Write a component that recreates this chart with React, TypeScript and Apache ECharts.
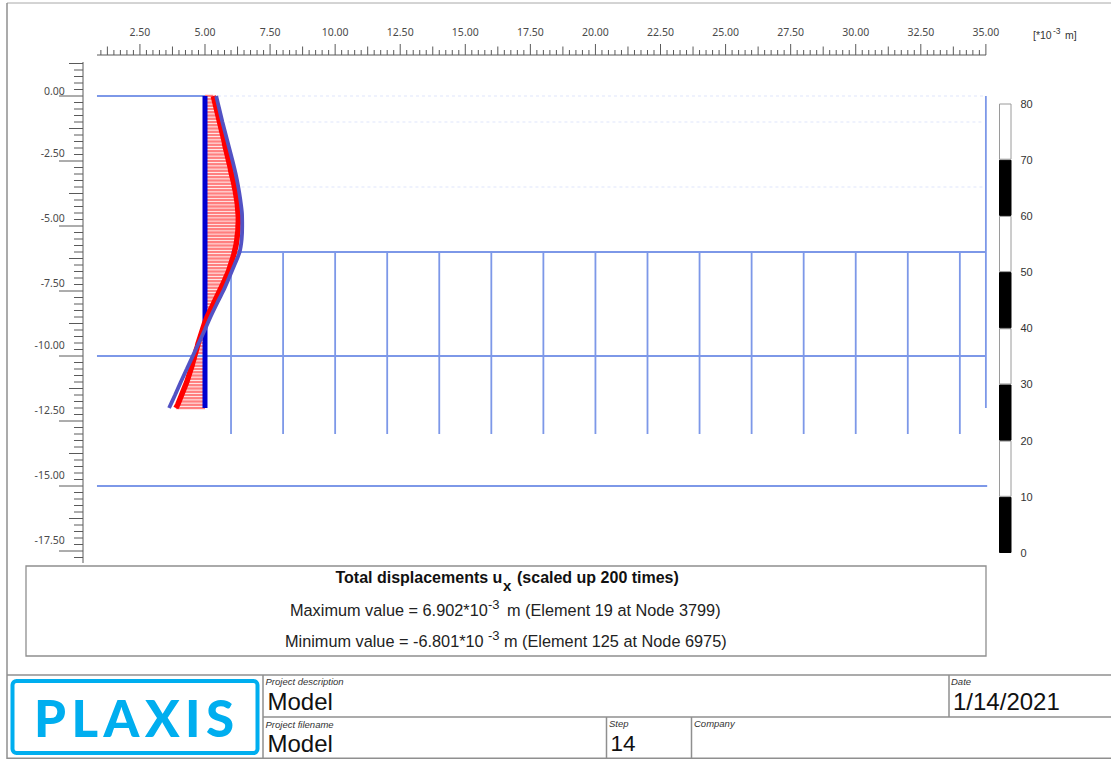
import React, { useEffect, useRef } from "react";
import * as echarts from "echarts";

// ---------- data ----------
const xTickLabels = [2.5, 5, 7.5, 10, 12.5, 15, 17.5, 20, 22.5, 25, 27.5, 30, 32.5, 35];
const yTickLabels = [0, -2.5, -5, -7.5, -10, -12.5, -15, -17.5];
const legendBands = [10, 10, 10, 10, 10, 10, 10, 10];

// wall and deformed shapes, x at each depth
const wallLine = [[5, 0], [5, -12]];
const redStep = 0.125;
const redValues = [
  5.32, 5.35, 5.38, 5.41, 5.44, 5.47, 5.50, 5.53, 5.56, 5.59, 5.62, 5.65, 5.68, 5.71, 5.74, 5.76,
  5.79, 5.82, 5.85, 5.88, 5.91, 5.94, 5.97, 5.99, 6.02, 6.05, 6.08, 6.11, 6.13, 6.16, 6.18, 6.20,
  6.22, 6.24, 6.25, 6.26, 6.27, 6.28, 6.28, 6.28, 6.27, 6.27, 6.26, 6.24, 6.23, 6.21, 6.19, 6.16,
  6.13, 6.10, 6.06, 6.02, 5.98, 5.94, 5.90, 5.85, 5.79, 5.74, 5.68, 5.62, 5.56, 5.50, 5.44, 5.38,
  5.32, 5.26, 5.20, 5.14, 5.08, 5.03, 4.98, 4.94, 4.90, 4.86, 4.82, 4.78, 4.74, 4.71, 4.67, 4.64,
  4.60, 4.57, 4.53, 4.50, 4.46, 4.42, 4.38, 4.34, 4.30, 4.25, 4.20, 4.15, 4.10, 4.05, 4.00, 3.95, 3.88,
];
const purpleStep = 0.5;
const purpleValues = [
  5.43, 5.55, 5.67, 5.80, 5.93, 6.06, 6.18, 6.28, 6.36, 6.42, 6.43, 6.41, 6.33,
  6.13, 5.92, 5.70, 5.45, 5.21, 4.99, 4.76, 4.53, 4.30, 4.07, 3.85, 3.62,
];

// structure segments [x1, y1, x2, y2]
const structureSegments = [
  [0.85, 0, 5, 0],
  [6, -6, 35.03, -6],
  [0.85, -10, 35.03, -10],
  [0.85, -15, 35.05, -15],
  [35, 0, 35, -12],
  [6, -6.5, 6, -13],
  [8, -6, 8, -13], [10, -6, 10, -13], [12, -6, 12, -13], [14, -6, 14, -13],
  [16, -6, 16, -13], [18, -6, 18, -13], [20, -6, 20, -13], [22, -6, 22, -13],
  [24, -6, 24, -13], [26, -6, 26, -13], [28, -6, 28, -13], [30, -6, 30, -13],
  [32, -6, 32, -13], [34, -6, 34, -13],
];
const faintSegments = [
  [5.5, 0, 34.9, 0],
  [5.9, -1, 34.9, -1],
  [6.4, -3.5, 34.9, -3.5],
];

// ---------- look ----------
const SANS = '"Liberation Sans", Arial, sans-serif';
const AXIS_FONT = '"Noto Sans", sans-serif';
const LINE = "#8f8f8f";
const BLUE = "#7d98e8";
const AXIS_COLOR = "#5a5a5a";

const xMinorTicks: number[] = [];
for (let i = 4; i <= 140; i++) xMinorTicks.push(i * 0.25);
const yMinorTicks: number[] = [];
for (let i = 5; i >= -71; i--) yMinorTicks.push(i * 0.25);

const tickLevel = (v: number) => {
  const q = Math.abs(v) / 1.25;
  if (Math.abs(q - Math.round(q)) > 1e-6) return 0;
  return Math.round(q) % 2 === 0 ? 2 : 1;
};

const segData = (segs: number[][]) => {
  const out: any[] = [];
  segs.forEach((s) => {
    out.push([s[0], s[1]], [s[2], s[3]], [null, null]);
  });
  return out;
};

const text = (t: string, x: number, y: number, size: number, extra: any = {}) => ({
  type: "text",
  x,
  y,
  silent: true,
  style: {
    text: t,
    fontSize: size,
    fontFamily: SANS,
    fill: "#111",
    align: "left",
    verticalAlign: "middle",
    ...extra,
  },
});
const rule = (x1: number, y1: number, x2: number, y2: number, color = LINE, w = 1.5) => ({
  type: "line",
  silent: true,
  shape: { x1, y1, x2, y2 },
  style: { stroke: color, lineWidth: w },
});

const liftOf = (v: number) => (v === 0 ? "a" : v >= -7.5 ? "b" : "c");

export default function App() {
  const ref = useRef<HTMLDivElement>(null);
  useEffect(() => {
    const chart = echarts.init(ref.current!, undefined, { renderer: "svg" });
    const option: any = {
      animation: false,
      backgroundColor: "#fff",
      grid: [
        { left: 74.85, top: 31, width: 976.1, height: 585 },
        { left: 999, top: 103.5, width: 12.5, height: 449.5 },
      ],
      xAxis: [
        {
          type: "value",
          gridIndex: 0,
          position: "top",
          offset: -24,
          min: 0,
          max: 37.5,
          interval: 2.5,
          axisLine: { show: false },
          axisTick: { show: false },
          splitLine: { show: false },
          axisLabel: {
            margin: 18,
            fontFamily: AXIS_FONT,
            fontSize: 10.5,
            color: "#4a4a4a",
            formatter: (v: number) => (xTickLabels.includes(v) ? v.toFixed(2) : ""),
          },
        },
        { type: "category", gridIndex: 1, data: ["band"], show: false },
      ],
      yAxis: [
        {
          type: "value",
          gridIndex: 0,
          min: -20,
          max: 2.5,
          interval: 2.5,
          axisLine: { show: false },
          axisTick: { show: false },
          splitLine: { show: false },
          axisLabel: {
            margin: 10,
            fontFamily: AXIS_FONT,
            fontSize: 10.5,
            color: "#4a4a4a",
            formatter: (v: number) =>
              yTickLabels.includes(v) ? `{${liftOf(v)}|${v.toFixed(2)}}` : "",
            rich: {
              a: { padding: [0, 0, 10, 0], fontFamily: AXIS_FONT, fontSize: 10.5, color: "#4a4a4a" },
              b: { padding: [0, 0, 16, 0], fontFamily: AXIS_FONT, fontSize: 10.5, color: "#4a4a4a" },
              c: { padding: [0, 0, 22, 0], fontFamily: AXIS_FONT, fontSize: 10.5, color: "#4a4a4a" },
            },
          },
        },
        {
          type: "value",
          gridIndex: 1,
          position: "right",
          min: 0,
          max: 80,
          interval: 10,
          axisLine: { show: false },
          axisTick: { show: false },
          splitLine: { show: false },
          axisLabel: { margin: 9, fontFamily: SANS, fontSize: 11, color: "#333" },
        },
      ],
      series: [
        {
          type: "line",
          name: "faint",
          data: segData(faintSegments),
          symbol: "none",
          silent: true,
          connectNulls: false,
          lineStyle: { color: "#dfe5fb", width: 1, type: [3, 3] },
        },
        {
          type: "line",
          name: "structure",
          data: segData(structureSegments),
          symbol: "none",
          silent: true,
          connectNulls: false,
          lineStyle: { color: BLUE, width: 1.8 },
        },
        {
          type: "custom",
          name: "hatch",
          silent: true,
          data: redValues.map((x, i) => [x, -i * redStep]),
          renderItem: (_: any, api: any) => {
            const a = api.coord([wallLine[0][0], api.value(1)]);
            const b = api.coord([api.value(0), api.value(1)]);
            return {
              type: "line",
              shape: { x1: a[0], y1: a[1], x2: b[0], y2: b[1] },
              style: { stroke: "#ff7f7f", lineWidth: 2.4 },
            };
          },
        },
        {
          type: "line",
          name: "wall",
          data: wallLine,
          symbol: "none",
          silent: true,
          lineStyle: { color: "#0000d0", width: 5, cap: "butt" },
        },
        {
          type: "line",
          name: "red",
          data: redValues.map((x, i) => [x, -i * redStep]),
          symbol: "none",
          silent: true,
          lineStyle: { color: "#ff0000", width: 5.5, cap: "butt" },
        },
        {
          type: "line",
          name: "purple",
          data: purpleValues.map((x, i) => [x, -i * purpleStep]),
          symbol: "none",
          smooth: 0.3,
          silent: true,
          lineStyle: { color: "#5252c4", width: 3.8, cap: "butt" },
        },
        {
          type: "custom",
          name: "xTicks",
          silent: true,
          data: xMinorTicks.map((v) => [v, 0]),
          renderItem: (_: any, api: any) => {
            const v = api.value(0);
            const x = api.coord([v, 0])[0];
            const len = [5, 8.5, 11][tickLevel(v)];
            return {
              type: "line",
              shape: { x1: x, y1: 55, x2: x, y2: 55 - len },
              style: { stroke: AXIS_COLOR, lineWidth: 1 },
            };
          },
        },
        {
          type: "custom",
          name: "yTicks",
          silent: true,
          data: yMinorTicks.map((v) => [0, v]),
          renderItem: (_: any, api: any) => {
            const v = api.value(1);
            const y = api.coord([1, v])[1];
            const len = [9, 14, 24][tickLevel(v)];
            return {
              type: "line",
              shape: { x1: 83, y1: y, x2: 83 - len, y2: y },
              style: { stroke: AXIS_COLOR, lineWidth: 1 },
            };
          },
        },
        ...legendBands.map((v, i) => ({
          type: "bar",
          xAxisIndex: 1,
          yAxisIndex: 1,
          stack: "bands",
          silent: true,
          barWidth: "100%",
          data: [v],
          itemStyle: {
            color: i % 2 === 0 ? "#000" : "#fff",
            borderColor: i % 2 === 0 ? "#000" : "#9a9a9a",
            borderWidth: 1,
          },
        })),
      ],
      graphic: [
        // axis spines
        rule(97, 55, 986, 55, AXIS_COLOR, 1),
        rule(83, 62, 83, 563, AXIS_COLOR, 1),
        // unit
        text("[*10", 1033, 35, 10.5, { fill: "#333" }),
        text("-3", 1053, 30.5, 8.5, { fill: "#333" }),
        text("m]", 1065, 35, 10.5, { fill: "#333" }),
        // outer frame
        rule(7, 3, 1111, 3, "#a8a8a8", 1),
        rule(7, 3, 7, 759, LINE),
        // caption box
        {
          type: "rect",
          silent: true,
          shape: { x: 26, y: 566, width: 960, height: 90 },
          style: { fill: "none", stroke: LINE, lineWidth: 1.3 },
        },
        text("Total displacements u", 335.5, 577.5, 16, { fontWeight: "bold" }),
        text("x", 503, 585, 15, { fontWeight: "bold" }),
        text("(scaled up 200 times)", 517, 577.5, 16, { fontWeight: "bold" }),
        text("Maximum value = 6.902*10", 290, 610, 16.3, { fill: "#222" }),
        text("-3", 488, 604, 13, { fill: "#222" }),
        text("m (Element 19 at Node 3799)", 507, 610, 16.3, { fill: "#222" }),
        text("Minimum value = -6.801*10", 285, 641, 16.3, { fill: "#222" }),
        text("-3", 488, 635, 13, { fill: "#222" }),
        text("m (Element 125 at Node 6975)", 504, 641, 16.3, { fill: "#222" }),
        // title block
        rule(7, 675, 1111, 675),
        rule(263, 717, 1111, 717),
        rule(7, 758.3, 1111, 758.3),
        rule(263, 675, 263, 759),
        rule(949, 675, 949, 717),
        rule(606.5, 717, 606.5, 759),
        rule(691.5, 717, 691.5, 759),
        {
          type: "rect",
          silent: true,
          shape: { x: 12.5, y: 681, width: 245, height: 72, r: 4 },
          style: { fill: "#fff", stroke: "#00aeef", lineWidth: 4 },
        },
        text("PLAXIS", 34, 717, 51, {
          fontFamily: "Lato, sans-serif",
          fontWeight: 900,
          fill: "#00aeef",
        }),
        text("Project description", 265.5, 681, 9.5, { fontStyle: "italic", fill: "#333" }),
        text("Model", 267.5, 701, 24),
        text("Project filename", 265.5, 724, 9.5, { fontStyle: "italic", fill: "#333" }),
        text("Model", 267.5, 743, 24),
        text("Step", 609, 723.5, 9.5, { fontStyle: "italic", fill: "#333" }),
        text("14", 610.5, 743, 22.5),
        text("Company", 694, 723.5, 9.5, { fontStyle: "italic", fill: "#333" }),
        text("Date", 951, 681, 9.5, { fontStyle: "italic", fill: "#333" }),
        text("1/14/2021", 953, 701, 24),
      ],
    };
    chart.setOption(option);
    ref.current!.querySelectorAll("text").forEach((t) => {
      if (t.textContent === "PLAXIS") t.setAttribute("letter-spacing", "5.5");
    });
    return () => chart.dispose();
  }, []);
  return (
    <div
      ref={ref}
      style={{ position: "absolute", left: 0, top: 0, width: 1111, height: 759, overflow: "hidden" }}
    />
  );
}
